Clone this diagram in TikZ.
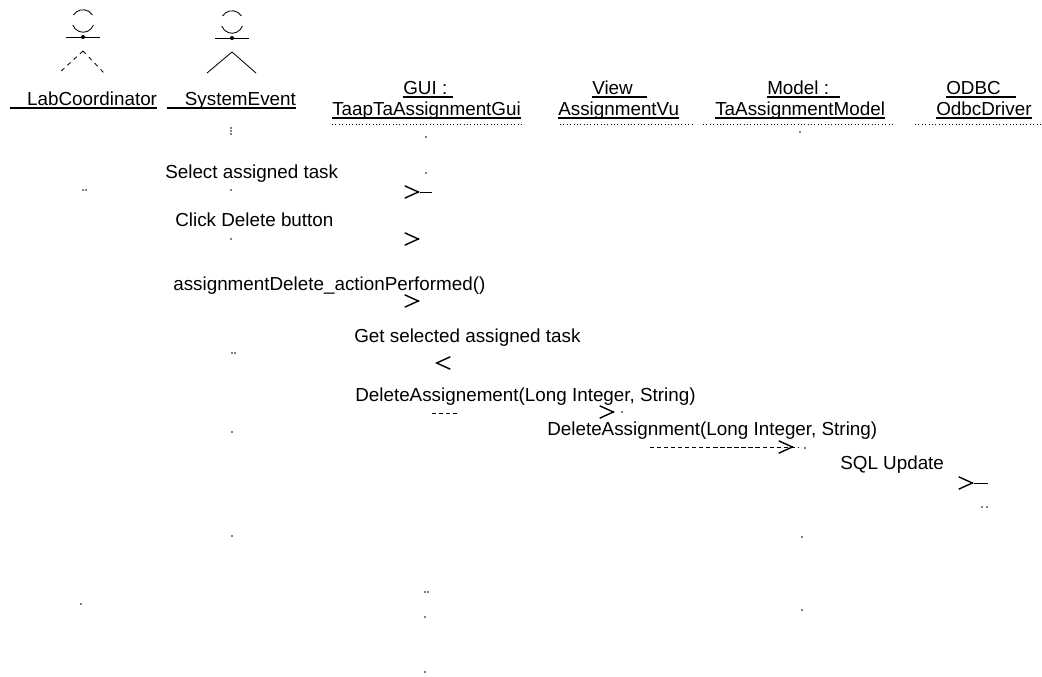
\documentclass[tikz,border=0pt]{standalone}
\usepackage{fontspec}
\setmainfont{Liberation Sans}
\usepackage{tikz}
\usetikzlibrary{arrows.meta}
\usetikzlibrary{positioning, calc}

\tikzset{
    lbl/.style={inner sep=0pt, font=\fontsize{13.4}{15}\selectfont},
    msg/.style={lbl, anchor=west},
    hdr/.style={lbl, anchor=base west},
    call/.style={line width=1pt, -{Straight Barb[length=3.4mm, width=3.1mm, line width=1pt]}},
    stub/.style={line width=0.6pt, densely dashed},
    limb/.style={line width=0.6pt}
}
\newcommand{\hdrline}[1]{\setbox0\hbox{#1}\rlap{\rule[-2.6pt]{\wd0}{1pt}}\box0}

\begin{document}
\begin{tikzpicture}[x=0.025cm, y=-0.025cm]
\useasboundingbox (0,0) rectangle (1042,677);

% actors
\foreach \n/\x/\y/\l/\r/\s in {
    lab/83/21/59/104/dashed,
    sys/232/22/207/256/solid} {
    \draw[limb] (\x-9.5,\y-6) arc (-148:-32:11.2);
    \draw[limb] (\x+10.4,\y+4) arc (20:160:11);
    \coordinate (\n-larm) at (\x-17,\y+16);
    \coordinate (\n-rarm) at (\x+17,\y+16);
    \draw[limb] (\n-larm) -- (\n-rarm);
    \fill (\x,\y+16) circle (2);
    \coordinate (\n-hip) at (\x,\y+30);
    \coordinate (\n-lleg) at (\l,73);
    \coordinate (\n-rleg) at (\r,73);
    \draw[limb,\s] (\n-hip) -- (\n-lleg);
    \draw[limb,\s] (\n-hip) -- (\n-rleg);
}

% headers
\node[hdr] (labname) at (10,105) {\hdrline{\hspace*{12pt}LabCoordinator}};
\node[hdr] (sysname) at (167,105) {\hdrline{\hspace*{12.5pt}SystemEvent}};
\node[hdr] (guirole) at (403,94) {\hdrline{GUI :\hspace*{4pt}}};
\node[hdr] (guiname) at (332,115) {\hdrline{TaapTaAssignmentGui}};
\node[hdr] (viewrole) at (592,94) {\hdrline{View\hspace*{10pt}}};
\node[hdr] (viewname) at (558,115) {\hdrline{AssignmentVu}};
\node[hdr] (modelrole) at (767,94) {\hdrline{Model :\hspace*{8pt}}};
\node[hdr] (modelname) at (715,115) {\hdrline{TaAssignmentModel}};
\node[hdr] (odbcrole) at (946,94) {\hdrline{ODBC\hspace*{11pt}}};
\node[hdr] (odbcname) at (936,115) {\hdrline{OdbcDriver}};

% messages
\node[msg] (select) at (165,174) {Select assigned task};
\node[msg] (click) at (175,220) {Click Delete button};
\node[msg] (action) at (173,286) {assignmentDelete\_actionPerformed()};
\node[msg] (getsel) at (354,338) {Get selected assigned task};
\node[msg] (delgui) at (355,397) {DeleteAssignement(Long Integer, String)};
\node[msg] (delview) at (547,431) {DeleteAssignment(Long Integer, String)};
\node[msg] (sql) at (840,465) {SQL Update};

% arrow stubs
\foreach \n/\a/\b/\y in {
    one/418/420/192,
    two/418/420/239,
    three/418/420/301,
    four/437/435/363,
    five/613/615/412,
    six/792/794/447,
    seven/972/974/483} {
    \coordinate (\n-from) at (\a,\y);
    \coordinate (\n-to) at (\b,\y);
    \draw[call] (\n-from) -- (\n-to);
}
\coordinate (one-tail) at (432,192);
\coordinate (six-tail) at (650,447);
\coordinate (six-end) at (798,447);
\coordinate (five-tail) at (432,413);
\coordinate (five-stop) at (460,413);
\coordinate (seven-tail) at (988,483);
\draw[limb] (one-to) -- (one-tail);
\draw[limb] (seven-to) -- (seven-tail);
\draw[stub] (six-tail) -- (six-end);
\draw[stub] (five-tail) -- (five-stop);

% what is left of the lifelines
\foreach \x/\y in {
    83/190, 86/190, 81/604,
    231/128, 231/131, 231/134, 231/190, 231/215, 231/239,
    232/353, 235/353, 232/432, 232/536,
    426/137, 426/173, 425/592, 428/592, 425/617, 425/672,
    622/412, 805/448, 982/507, 987/507, 802/537, 802/610, 800/132}
    \fill (\x,\y) circle (0.9);

\foreach \a/\b in {
    332/522, 560/694, 703/893, 915/1042}
    \draw[line width=0.4pt, dotted] (\a,124) -- (\b,124);

\end{tikzpicture}
\end{document}
